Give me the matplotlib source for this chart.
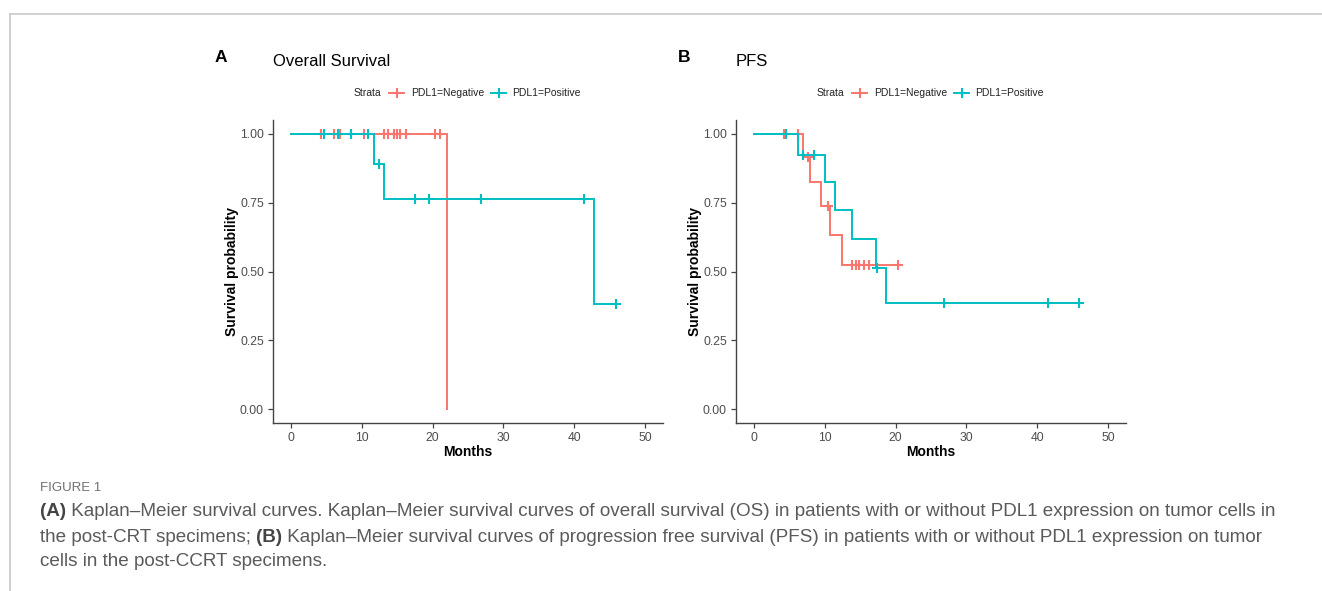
import numpy as np
import matplotlib
matplotlib.use("Agg")
import matplotlib.pyplot as plt
from matplotlib.lines import Line2D
from matplotlib import font_manager

# ---------------- data ----------------
os_neg_times = [0.0, 22.1]
os_neg_surv = [1.0, 0.0]
os_neg_end = 22.1
os_neg_censor = [4.3, 6.1, 7.0, 10.4, 13.1, 13.7, 14.5, 15.0, 15.4, 16.3, 20.4, 21.1]

os_pos_times = [0.0, 11.8, 13.1, 42.8]
os_pos_surv = [1.0, 0.889, 0.762, 0.381]
os_pos_end = 45.9
os_pos_censor = [4.7, 6.7, 8.5, 10.9, 12.5, 17.5, 19.5, 26.8, 41.4, 45.9]

pfs_neg_times = [0.0, 6.9, 7.9, 9.5, 10.8, 12.4]
pfs_neg_surv = [1.0, 0.917, 0.826, 0.737, 0.632, 0.524]
pfs_neg_end = 20.4
pfs_neg_censor = [4.3, 6.3, 7.6, 10.5, 13.8, 14.4, 14.9, 15.5, 16.3, 20.4]

pfs_pos_times = [0.0, 6.2, 10.1, 11.4, 13.8, 17.3, 18.7]
pfs_pos_surv = [1.0, 0.923, 0.826, 0.722, 0.618, 0.513, 0.386]
pfs_pos_end = 45.9
pfs_pos_censor = [4.6, 7.0, 8.5, 17.4, 26.8, 41.5, 45.9]

x_ticks = [0, 10, 20, 30, 40, 50]
y_ticks = [0.0, 0.25, 0.50, 0.75, 1.00]
strata_labels = ["PDL1=Negative", "PDL1=Positive"]
panel_letters = ["A", "B"]
panel_titles = ["Overall Survival", "PFS"]
x_label = "Months"
y_label = "Survival probability"

caption_head = "FIGURE 1"
caption_lines = [
    [("(A)", "bold"), (" Kaplan\u2013Meier survival curves. Kaplan\u2013Meier survival curves of overall survival (OS) in patients with or without PDL1 expression on tumor cells in", "normal")],
    [("the post-CRT specimens; ", "normal"), ("(B)", "bold"), (" Kaplan\u2013Meier survival curves of progression free survival (PFS) in patients with or without PDL1 expression on tumor", "normal")],
    [("cells in the post-CCRT specimens.", "normal")],
]

# ---------------- style ----------------
RED = "#F8766D"
CYAN = "#00BFC4"
W, H = 1322, 591
avail = {f.name for f in font_manager.fontManager.ttflist}
SANS = "Liberation Sans" if "Liberation Sans" in avail else "DejaVu Sans"
NARROW = "Liberation Sans Narrow" if "Liberation Sans Narrow" in avail else SANS
plt.rcParams["font.family"] = [SANS, "DejaVu Sans"]

fig = plt.figure(figsize=(W / 100, H / 100), dpi=100)
fig.patch.set_facecolor("white")


def fx(px):
    return px / W


def fy(py):
    return 1 - py / H


# border lines of the page screenshot
fig.add_artist(Line2D([fx(9.5), fx(9.5)], [fy(13.5), 0], color="#c8c8c8", lw=1.2))
fig.add_artist(Line2D([fx(9.5), 1], [fy(13.5), fy(13.5)], color="#c8c8c8", lw=1.2))


def km_curve(ax, times, surv, end, censor, color):
    xs = list(times) + [end]
    ys = list(surv) + [surv[-1]]
    ax.step(xs, ys, where="post", color=color, lw=1.4, solid_joinstyle="miter")
    t = np.asarray(times)
    s = np.asarray(surv)
    cy = [s[np.searchsorted(t, c, side="right") - 1] for c in censor]
    ax.plot(censor, cy, ls="none", marker="+", ms=7.5, mew=1.5, color=color)


panels = [
    (273, (os_neg_times, os_neg_surv, os_neg_end, os_neg_censor),
     (os_pos_times, os_pos_surv, os_pos_end, os_pos_censor)),
    (736, (pfs_neg_times, pfs_neg_surv, pfs_neg_end, pfs_neg_censor),
     (pfs_pos_times, pfs_pos_surv, pfs_pos_end, pfs_pos_censor)),
]

for i, (left_px, neg, pos) in enumerate(panels):
    ax = fig.add_axes([fx(left_px), fy(423), 390 / W, (423 - 120) / H])
    km_curve(ax, *neg, RED)
    km_curve(ax, *pos, CYAN)
    ax.set_xlim(-2.5, 52.5)
    ax.set_ylim(-0.05, 1.05)
    ax.set_xticks(x_ticks)
    ax.set_yticks(y_ticks)
    ax.set_yticklabels([f"{v:.2f}" for v in y_ticks])
    for side in ("top", "right"):
        ax.spines[side].set_visible(False)
    for side in ("left", "bottom"):
        ax.spines[side].set_color("#444444")
        ax.spines[side].set_linewidth(1.0)
    ax.tick_params(axis="both", length=3.5, width=0.9, color="#444444",
                   labelsize=8.7, labelcolor="#4d4d4d", pad=3)
    ax.set_xlabel(x_label, fontsize=10, fontweight="bold", labelpad=1)
    ax.set_ylabel(y_label, fontsize=10, fontweight="bold", labelpad=1)

    off = left_px - 273
    # panel letter and title
    fig.text(fx(215 + off), fy(57), panel_letters[i], fontsize=12.5, fontweight="bold",
             ha="left", va="center")
    fig.text(fx(273 + off), fy(61), panel_titles[i], fontsize=12,
             ha="left", va="center")
    # legend
    ly = fy(93)
    fig.text(fx(354 + off), ly, "Strata", fontsize=7.5, ha="left", va="center", color="#222222")
    for (h0, tx, col, lab) in [(389, 411, RED, strata_labels[0]), (491, 512, CYAN, strata_labels[1])]:
        fig.add_artist(Line2D([fx(h0 + off), fx(h0 + 15 + off)], [ly, ly], color=col, lw=1.4))
        fig.add_artist(Line2D([fx(h0 + 7.5 + off)], [ly], ls="none", marker="+", ms=7.5, mew=1.5, color=col))
        fig.text(fx(tx + off), ly, lab, fontsize=7.5, ha="left", va="center", color="#222222")

# caption
fig.text(fx(40), fy(488), caption_head, fontsize=9.5, color="#707070", family=NARROW,
         ha="left", va="center")

fig.canvas.draw()
renderer = fig.canvas.get_renderer()


def draw_segments(segments, x0, yc, size):
    x = x0
    arts = []
    for txt, wt in segments:
        t = fig.text(fx(x), fy(yc), txt, fontsize=size, fontweight=wt,
                     color="#5a5a5a" if wt == "normal" else "#444444",
                     family=NARROW, ha="left", va="center")
        bb = t.get_window_extent(renderer=renderer)
        x += bb.width
        arts.append(t)
    return x, arts


# fit line 1 to span 40 -> 1283 px
end, arts = draw_segments(caption_lines[0], 40, 512, 12)
scale = (1283 - 40) / (end - 40)
for a in arts:
    a.remove()
size = 12 * scale
for line, yc in zip(caption_lines, [512, 537, 561]):
    draw_segments(line, 40, yc, size)

fig.savefig("out.png", dpi=100, facecolor="white")
